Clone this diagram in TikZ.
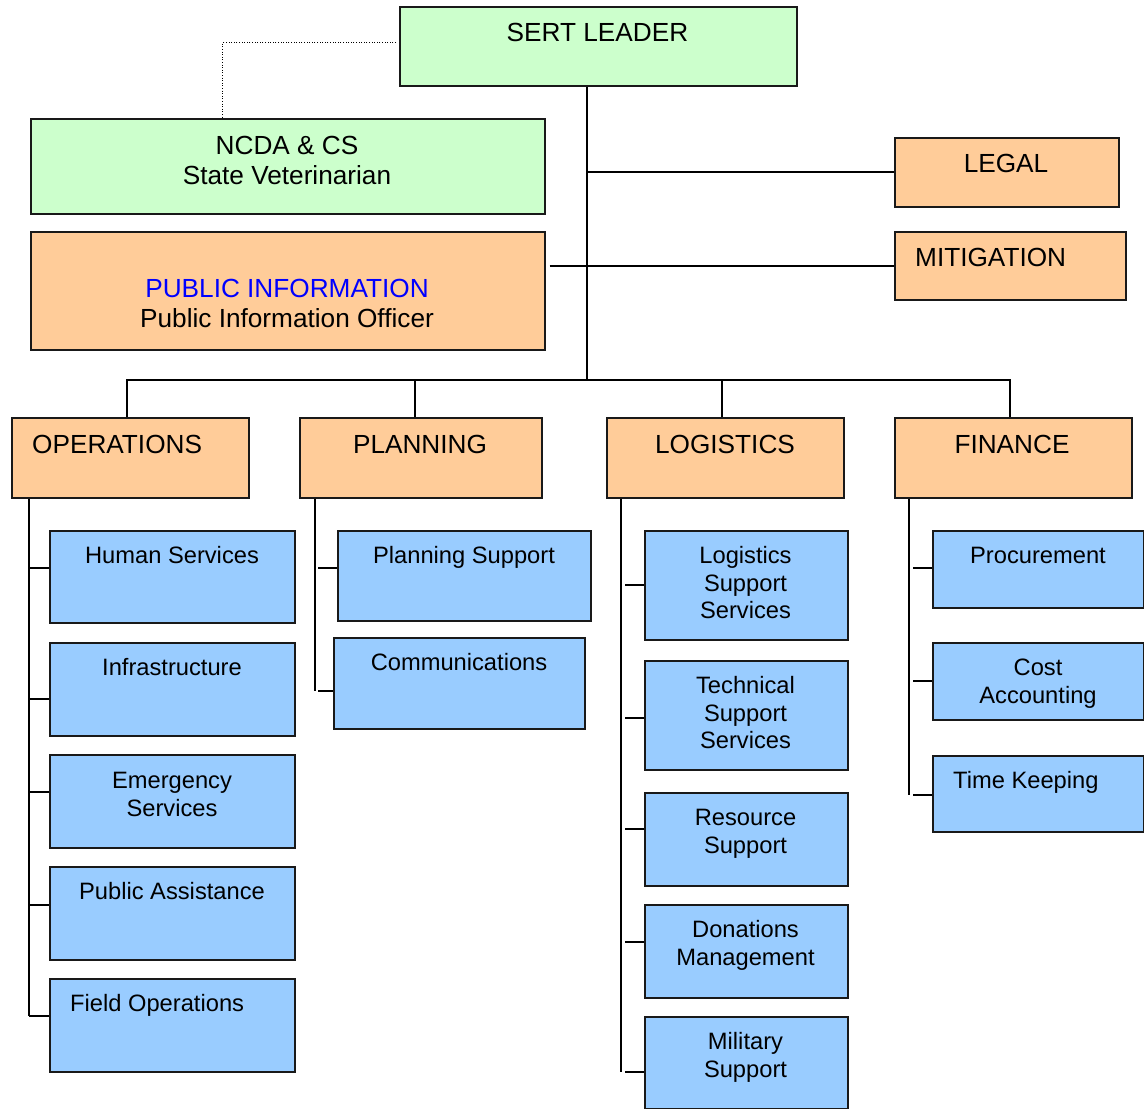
\documentclass[tikz,border=0pt]{standalone}
\usepackage{fontspec}
\setmainfont{Liberation Sans}
\usetikzlibrary{positioning}

\definecolor{boxgreen}{HTML}{CCFFCC}
\definecolor{boxorange}{HTML}{FFCC99}
\definecolor{boxblue}{HTML}{99CCFF}

\tikzset{
  box/.style={draw=black!90, line width=1.6pt, anchor=north west, inner sep=0pt},
  leadbox/.style={box, fill=boxgreen},
  headbox/.style={box, fill=boxorange},
  unitbox/.style={box, fill=boxblue},
  bigtxt/.style={anchor=base, align=center, inner sep=0pt, font=\fontsize{26.2}{30}\selectfont},
  smalltxt/.style={anchor=base, align=center, inner sep=0pt, font=\fontsize{23.7}{27.5}\selectfont},
  link/.style={line width=1.8pt},
  dotlink/.style={line width=1pt, dash pattern=on 1pt off 1.6pt},
}

\begin{document}
\begin{tikzpicture}[x=1pt, y=-1pt]

\useasboundingbox (0,0) rectangle (1144,1109);

% Vertice (testi: base = ultima riga)
\node[leadbox, minimum width=397pt, minimum height=79pt] (sert) at (399,6) {};
\node[leadbox, minimum width=514pt, minimum height=95pt] (ncda) at (30,118) {};
\node[headbox, minimum width=514pt, minimum height=118pt] (pio) at (30,231) {};
\node[headbox, minimum width=224pt, minimum height=69pt] (legal) at (894,137) {};
\node[headbox, minimum width=231pt, minimum height=68pt] (mit) at (894,231) {};

\node[bigtxt] (sertT) at (597.5,41) {SERT LEADER};
\node[bigtxt] (ncdaT) at (287,184) {NCDA \& CS\\State Veterinarian};
\node[bigtxt] (pioT) at (287,327.5) {\textcolor{blue}{PUBLIC INFORMATION}\\Public Information Officer};
\node[bigtxt] (legalT) at (1006,172.5) {LEGAL};
\node[bigtxt, anchor=base west] (mitT) at (915,266.5) {MITIGATION};

% Sezioni
\node[headbox, minimum width=237pt, minimum height=80pt] (ops) at (11,417) {};
\node[headbox, minimum width=242pt, minimum height=80pt] (plan) at (299,417) {};
\node[headbox, minimum width=237pt, minimum height=80pt] (log) at (606,417) {};
\node[headbox, minimum width=237pt, minimum height=80pt] (fin) at (894,417) {};

\node[bigtxt, anchor=base west] (opsT) at (32,453) {OPERATIONS};
\node[bigtxt] (planT) at (420,453) {PLANNING};
\node[bigtxt] (logT) at (725,453) {LOGISTICS};
\node[bigtxt] (finT) at (1012,453) {FINANCE};

% Operations
\node[unitbox, minimum width=245pt, minimum height=92pt] (hs) at (49,530) {};
\node[unitbox, minimum width=245pt, minimum height=93pt] (inf) at (49,642) {};
\node[unitbox, minimum width=245pt, minimum height=93pt] (es) at (49,754) {};
\node[unitbox, minimum width=245pt, minimum height=93pt] (pa) at (49,866) {};
\node[unitbox, minimum width=245pt, minimum height=93pt] (fo) at (49,978) {};

\node[smalltxt] (hsT) at (172,563.5) {Human Services};
\node[smalltxt] (infT) at (172,675.5) {Infrastructure};
\node[smalltxt] (esT) at (172,816) {Emergency\\Services};
\node[smalltxt] (paT) at (172,899.5) {Public Assistance};
\node[smalltxt, anchor=base west] (foT) at (70,1011.5) {Field Operations};

% Planning
\node[unitbox, minimum width=253pt, minimum height=90pt] (ps) at (337,530) {};
\node[unitbox, minimum width=251pt, minimum height=91pt] (com) at (333,637) {};

\node[smalltxt] (psT) at (464,563.5) {Planning Support};
\node[smalltxt] (comT) at (459,670.5) {Communications};

% Logistics
\node[unitbox, minimum width=203pt, minimum height=109pt] (lss) at (644,530) {};
\node[unitbox, minimum width=203pt, minimum height=109pt] (tss) at (644,660) {};
\node[unitbox, minimum width=203pt, minimum height=93pt] (rs) at (644,792) {};
\node[unitbox, minimum width=203pt, minimum height=93pt] (dm) at (644,904) {};
\node[unitbox, minimum width=203pt, minimum height=92pt] (ms) at (644,1016) {};

\node[smalltxt] (lssT) at (745.5,618.5) {Logistics\\Support\\Services};
\node[smalltxt] (tssT) at (745.5,748.5) {Technical\\Support\\Services};
\node[smalltxt] (rsT) at (745.5,853) {Resource\\Support};
\node[smalltxt] (dmT) at (745.5,965) {Donations\\Management};
\node[smalltxt] (msT) at (745.5,1077) {Military\\Support};

% Finance
\node[unitbox, minimum width=211pt, minimum height=77pt] (pro) at (932,530) {};
\node[unitbox, minimum width=211pt, minimum height=77pt] (ca) at (932,642) {};
\node[unitbox, minimum width=211pt, minimum height=76pt] (tk) at (932,755) {};

\node[smalltxt] (proT) at (1038,563.5) {Procurement};
\node[smalltxt] (caT) at (1038,703) {Cost\\Accounting};
\node[smalltxt, anchor=base west] (tkT) at (953,788.5) {Time Keeping};

% Collegamenti in alto
\coordinate (hub) at (587,380);
\draw[link] (sert.south -| hub) -- (hub);
\draw[link] (legal.west -| hub) -- (legal.west);
\draw[link] ([xshift=4pt]pio.east |- mit.west) -- (mit.west);
\draw[dotlink] ([xshift=-3pt,yshift=3.5pt]sert.west) -| ([xshift=-65pt]ncda.north);

% Barra delle sezioni
\draw[link] ([xshift=-3.5pt]ops.north) |- (hub) -| ([xshift=-3.5pt]fin.north);
\draw[link] ([xshift=-6pt]plan.north) -- ([xshift=-6pt]plan.north |- hub);
\draw[link] ([xshift=-3.5pt]log.north) -- ([xshift=-3.5pt]log.north |- hub);

% Rami
\coordinate (opsbar) at ([xshift=18pt]ops.south west);
\coordinate (planbar) at ([xshift=16pt]plan.south west);
\coordinate (logbar) at ([xshift=15pt]log.south west);
\coordinate (finbar) at ([xshift=15pt]fin.south west);

\draw[link] (opsbar) -- ([yshift=9.5pt]fo.west -| opsbar);
\foreach \u/\s in {hs/9, inf/-9.5, es/9.5, pa/8.5, fo/9.5}
  \draw[link] ([yshift=\s pt]\u.west) -- ([yshift=\s pt]\u.west -| opsbar);

\draw[link] (planbar) -- ([yshift=-7.5pt]com.west -| planbar);
\foreach \u/\s in {ps/8, com/-7.5}
  \draw[link] ([yshift=\s pt]\u.west) -- ([xshift=3pt,yshift=\s pt]\u.west -| planbar);

\draw[link] (logbar) -- ([yshift=-9pt]ms.west -| logbar);
\foreach \u/\s in {lss/0, tss/-2.5, rs/10.5, dm/9.5, ms/-9}
  \draw[link] ([yshift=\s pt]\u.west) -- ([xshift=4pt,yshift=\s pt]\u.west -| logbar);

\draw[link] (finbar) -- ([yshift=-1pt]tk.west -| finbar);
\foreach \u/\s in {pro/1.5, ca/0.5, tk/-1}
  \draw[link] ([yshift=\s pt]\u.west) -- ([xshift=4pt,yshift=\s pt]\u.west -| finbar);

\end{tikzpicture}
\end{document}
